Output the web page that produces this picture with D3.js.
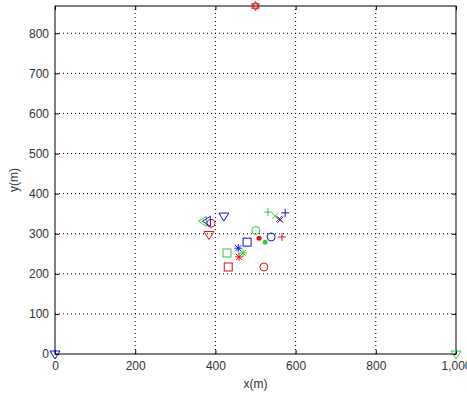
<!DOCTYPE html>
<html>
<head>
<meta charset="utf-8">
<script src="https://cdn.jsdelivr.net/npm/d3@7"></script>
<style>
  body { margin: 0; background: #fff; }
  svg text { font-family: "Liberation Sans", Arial, sans-serif; font-size: 12px; fill: #333; }
</style>
</head>
<body>
<div id="chart"></div>
<script>
// series: [x, y, marker]
const redPts = [
  [500, 868, 'h'], [389, 326, 'o'], [384, 298, 'v'], [432, 217, 's'],
  [459, 242, '*'], [559, 337, 'x'], [509, 289, '.'], [566, 292, '+'], [521, 217, 'o']
];
const greenPts = [
  [1000, 0, 'v'], [370, 331, '<'], [429, 252, 's'], [469, 252, '*'],
  [531, 354, '+'], [549, 344, 'x'], [501, 308, 'o'], [524, 279, '.']
];
const bluePts = [
  [0, 0, 'v'], [380, 331, '<'], [421, 344, 'v'], [479, 279, 's'],
  [457, 264, '*'], [562, 335, 'x'], [574, 352, '+'], [539, 292, 'o']
];
const xTicks = [0, 200, 400, 600, 800, 1000];
const yTicks = [0, 100, 200, 300, 400, 500, 600, 700, 800];

const W = 467, H = 394;
const m = {l: 55, r: 11, t: 6, b: 40};
const svg = d3.select('#chart').append('svg').attr('width', W).attr('height', H);
const x = d3.scaleLinear().domain([0, 1000]).range([m.l, W - m.r]);
const y = d3.scaleLinear().domain([0, 868]).range([H - m.b, m.t]);

// grid
const g = svg.append('g');
g.selectAll('.gx').data(xTicks.slice(1, -1)).enter().append('line')
  .attr('x1', d => x(d)).attr('x2', d => x(d)).attr('y1', y(0)).attr('y2', m.t)
  .attr('stroke', '#000').attr('stroke-width', 1).attr('stroke-dasharray', '1,3');
g.selectAll('.gy').data(yTicks.slice(1)).enter().append('line')
  .attr('x1', x(0)).attr('x2', x(1000)).attr('y1', d => y(d)).attr('y2', d => y(d))
  .attr('stroke', '#000').attr('stroke-width', 1).attr('stroke-dasharray', '1,3');

// axes, ticks inward
const xa = svg.append('g').attr('transform', `translate(0,${y(0)})`)
  .call(d3.axisBottom(x).tickValues(xTicks).tickSize(-4).tickPadding(7));
const ya = svg.append('g').attr('transform', `translate(${x(0)},0)`)
  .call(d3.axisLeft(y).tickValues(yTicks).tickSize(-4).tickPadding(6));
const xt = svg.append('g').attr('transform', `translate(0,${m.t})`)
  .call(d3.axisTop(x).tickValues(xTicks).tickSize(-4).tickFormat(''));
const yr = svg.append('g').attr('transform', `translate(${x(1000)},0)`)
  .call(d3.axisRight(y).tickValues(yTicks).tickSize(-4).tickFormat(''));
[xa, ya, xt, yr].forEach(a => {
  a.selectAll('line').attr('stroke', '#000');
  a.selectAll('text').attr('font-family', null).attr('font-size', null);
  a.select('.domain').remove();
});
svg.append('rect').attr('x', x(0)).attr('y', m.t)
  .attr('width', x(1000) - x(0)).attr('height', y(0) - m.t)
  .attr('fill', 'none').attr('stroke', '#000').attr('stroke-width', 1);

svg.append('text').attr('x', (x(0) + x(1000)) / 2).attr('y', 388)
  .attr('text-anchor', 'middle').text('x(m)');
svg.append('text').attr('transform', `translate(18,${(y(0) + m.t) / 2}) rotate(-90)`)
  .attr('text-anchor', 'middle').text('y(m)');

// markers
function drawMarker(sel, t, c) {
  const s = 4;
  switch (t) {
    case 'o': sel.append('circle').attr('r', s).attr('fill', 'none').attr('stroke', c); break;
    case 's': sel.append('rect').attr('x', -s).attr('y', -s).attr('width', 2 * s).attr('height', 2 * s)
      .attr('fill', 'none').attr('stroke', c); break;
    case 'v': sel.append('path').attr('d', `M${-s - 1},${-s + 1}L${s + 1},${-s + 1}L0,${s + 1}Z`)
      .attr('fill', 'none').attr('stroke', c); break;
    case '<': sel.append('path').attr('d', `M${s - 1},${-s - 1}L${s - 1},${s + 1}L${-s - 1},0Z`)
      .attr('fill', 'none').attr('stroke', c); break;
    case '+': sel.append('path').attr('d', `M${-s},0H${s}M0,${-s}V${s}`).attr('stroke', c); break;
    case 'x': sel.append('path').attr('d', `M${-s + 1},${-s + 1}L${s - 1},${s - 1}M${-s + 1},${s - 1}L${s - 1},${-s + 1}`)
      .attr('stroke', c); break;
    case '*': sel.append('path').attr('d', `M${-s},0H${s}M0,${-s}V${s}M-3,-3L3,3M-3,3L3,-3`).attr('stroke', c); break;
    case '.': sel.append('circle').attr('r', 2.5).attr('fill', c); break;
    case 'h': sel.append('path').attr('d', 'M0,-4.5L3.9,2.25L-3.9,2.25ZM0,4.5L3.9,-2.25L-3.9,-2.25Z')
      .attr('fill', 'none').attr('stroke', c); break;
  }
}
[[redPts, '#e01010'], [greenPts, '#33cc33'], [bluePts, '#1010e0']].forEach(([pts, c]) => {
  pts.forEach(p => {
    const gm = svg.append('g').attr('transform', `translate(${x(p[0])},${y(p[1])})`);
    drawMarker(gm, p[2], c);
  });
});
</script>
</body>
</html>
